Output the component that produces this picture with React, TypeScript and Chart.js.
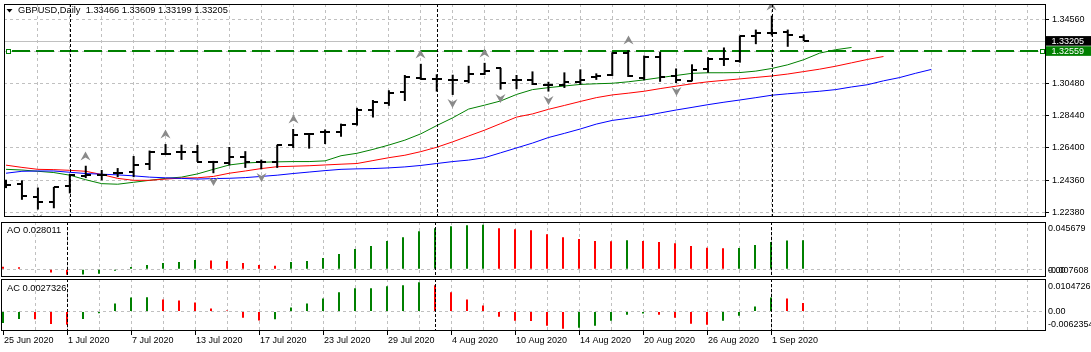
import React, { useEffect, useRef } from 'react';
import { Chart, registerables } from 'chart.js';

Chart.register(...registerables);

// ---------------- data ----------------
const symbol = 'GBPUSD';
const timeframe = 'Daily';

const dates = [
  '25 Jun 2020', '26 Jun 2020', '29 Jun 2020', '30 Jun 2020',
  '1 Jul 2020', '2 Jul 2020', '3 Jul 2020', '6 Jul 2020', '7 Jul 2020', '8 Jul 2020', '9 Jul 2020', '10 Jul 2020',
  '13 Jul 2020', '14 Jul 2020', '15 Jul 2020', '16 Jul 2020', '17 Jul 2020', '20 Jul 2020', '21 Jul 2020',
  '22 Jul 2020', '23 Jul 2020', '24 Jul 2020', '27 Jul 2020', '28 Jul 2020', '29 Jul 2020', '30 Jul 2020', '31 Jul 2020',
  '3 Aug 2020', '4 Aug 2020', '5 Aug 2020', '6 Aug 2020', '7 Aug 2020', '10 Aug 2020', '11 Aug 2020', '12 Aug 2020',
  '13 Aug 2020', '14 Aug 2020', '17 Aug 2020', '18 Aug 2020', '19 Aug 2020', '20 Aug 2020', '21 Aug 2020',
  '24 Aug 2020', '25 Aug 2020', '26 Aug 2020', '27 Aug 2020', '28 Aug 2020', '31 Aug 2020',
  '1 Sep 2020', '2 Sep 2020', '3 Sep 2020',
];

const openPrices = [
  1.24097, 1.24097, 1.23269, 1.22985, 1.23974, 1.24629, 1.24653, 1.24796, 1.24876, 1.25370,
  1.25988, 1.26155, 1.26137, 1.25519, 1.25475, 1.25828, 1.25506, 1.25537, 1.26569, 1.27298,
  1.27391, 1.27422, 1.27904, 1.28794, 1.29288, 1.29944, 1.30833, 1.30772, 1.30728, 1.30667,
  1.31130, 1.31451, 1.30728, 1.30728, 1.30419, 1.30376, 1.30574, 1.30914, 1.31037, 1.32428,
  1.30821, 1.32181, 1.30945, 1.30667, 1.31439, 1.32026, 1.31921, 1.33509, 1.33713, 1.33757,
  1.33466,
];
const highPrices = [
  1.24382, 1.24344, 1.23887, 1.23930, 1.24752, 1.25271, 1.25000, 1.25123, 1.25889, 1.26236,
  1.26650, 1.26606, 1.26588, 1.25580, 1.26464, 1.26198, 1.25661, 1.26606, 1.27607, 1.27329,
  1.27577, 1.27947, 1.28955, 1.29449, 1.30067, 1.31037, 1.31748, 1.31081, 1.31056, 1.31624,
  1.31810, 1.31489, 1.31037, 1.31266, 1.30605, 1.31204, 1.31396, 1.31142, 1.32477, 1.32613,
  1.32273, 1.32508, 1.31451, 1.31717, 1.32168, 1.32786, 1.33540, 1.33923, 1.34807, 1.33923,
  1.33609,
];
const lowPrices = [
  1.23850, 1.23108, 1.22490, 1.22571, 1.23516, 1.24487, 1.24344, 1.24548, 1.24548, 1.25000,
  1.25951, 1.25642, 1.25519, 1.24796, 1.25290, 1.25135, 1.25043, 1.25135, 1.26402, 1.26359,
  1.26650, 1.27113, 1.27824, 1.28337, 1.29078, 1.29387, 1.30728, 1.29987, 1.29770, 1.30524,
  1.31037, 1.30110, 1.30141, 1.30401, 1.29987, 1.30215, 1.30419, 1.30728, 1.30976, 1.30914,
  1.30697, 1.30605, 1.30524, 1.30636, 1.31180, 1.31612, 1.31822, 1.32996, 1.33553, 1.32830,
  1.33199,
];
const closePrices = [
  1.24073, 1.23356, 1.22985, 1.23930, 1.24715, 1.24653, 1.24691, 1.24796, 1.25290, 1.26137,
  1.26032, 1.26155, 1.25519, 1.25519, 1.25828, 1.25506, 1.25537, 1.26569, 1.27249, 1.27311,
  1.27391, 1.27886, 1.28782, 1.29326, 1.29906, 1.30895, 1.30809, 1.30759, 1.30728, 1.31087,
  1.31315, 1.30524, 1.30728, 1.30494, 1.30419, 1.30605, 1.30728, 1.30945, 1.32428, 1.30945,
  1.32193, 1.30883, 1.30697, 1.31377, 1.32069, 1.32026, 1.33509, 1.33713, 1.33713, 1.33553,
  1.33205,
];

// Alligator lines (lips shifted 3 bars, teeth 5, jaw 8 into the future)
const lips = [
  1.25043, 1.25000, 1.24919, 1.24839, 1.24672, 1.24382, 1.24134, 1.24097, 1.24221, 1.24345,
  1.24468, 1.24548, 1.24752, 1.25043, 1.25321, 1.25445, 1.25494, 1.25519, 1.25537, 1.25537,
  1.25581, 1.25908, 1.26063, 1.26310, 1.26588, 1.26897, 1.27299, 1.27824, 1.28318, 1.28874,
  1.29122, 1.29387, 1.29801, 1.30110, 1.30234, 1.30339, 1.30438, 1.30481, 1.30512, 1.30605,
  1.30728, 1.30871, 1.31007, 1.31143, 1.31180, 1.31180, 1.31192, 1.31285, 1.31452, 1.31686,
  1.32008, 1.32428, 1.32644, 1.32786,
];
const teeth = [
  1.25309, 1.25166, 1.25043, 1.25024, 1.24981, 1.24919, 1.24715, 1.24468, 1.24345, 1.24345,
  1.24425, 1.24487, 1.24505, 1.24592, 1.24796, 1.24938, 1.25092, 1.25210, 1.25241, 1.25272,
  1.25321, 1.25370, 1.25414, 1.25599, 1.25784, 1.25939, 1.26168, 1.26446, 1.26792, 1.27163,
  1.27533, 1.27947, 1.28362, 1.28565, 1.28856, 1.29103, 1.29356, 1.29598, 1.29771, 1.29882,
  1.30005, 1.30172, 1.30327, 1.30481, 1.30605, 1.30698, 1.30790, 1.30883, 1.30976, 1.31099,
  1.31254, 1.31408, 1.31594, 1.31810, 1.32026, 1.32212,
];
const jaw = [
  1.24796, 1.24919, 1.24938, 1.24938, 1.24857, 1.24777, 1.24734, 1.24691, 1.24629, 1.24548,
  1.24505, 1.24468, 1.24425, 1.24456, 1.24474, 1.24518, 1.24592, 1.24672, 1.24777, 1.24870,
  1.24963, 1.25043, 1.25074, 1.25092, 1.25136, 1.25197, 1.25290, 1.25414, 1.25537, 1.25630,
  1.25784, 1.26093, 1.26402, 1.26711, 1.27064, 1.27329, 1.27608, 1.27917, 1.28151, 1.28287,
  1.28442, 1.28627, 1.28813, 1.28980, 1.29153, 1.29307, 1.29449, 1.29598, 1.29752, 1.29845,
  1.29925, 1.30005, 1.30110, 1.30277, 1.30419, 1.30667, 1.30871, 1.31143, 1.31390,
];

const fractalUp = [5, 10, 18, 26, 30, 39, 48];
const fractalDown = [2, 13, 16, 28, 31, 34, 42];

const aoValues = [
  0.0024, 0.0019, 0.0005, -0.0032, -0.0055, -0.0051, -0.0045, -0.0016, 0.0022, 0.0041,
  0.0060, 0.0070, 0.0089, 0.0084, 0.0080, 0.0060, 0.0041, 0.0032, 0.0070, 0.0080,
  0.0108, 0.0147, 0.0195, 0.0224, 0.0272, 0.0310, 0.0368, 0.0396, 0.0416, 0.0425,
  0.0429, 0.0396, 0.0387, 0.0377, 0.0339, 0.0310, 0.0291, 0.0272, 0.0270, 0.0281,
  0.0272, 0.0262, 0.0252, 0.0224, 0.0208, 0.0202, 0.0205, 0.0233, 0.0262, 0.0278,
  0.028011,
];
const aoFirstRising = false;
const acValues = [
  -0.00367, -0.00237, -0.00244, -0.00400, -0.00423, -0.00237, -0.00055, 0.00260, 0.00455, 0.00462,
  0.00390, 0.00358, 0.00293, 0.00098, 0.00033, -0.00195, -0.00283, -0.00250, 0.00130, 0.00260,
  0.00423, 0.00618, 0.00748, 0.00754, 0.00813, 0.00845, 0.00943, 0.00845, 0.00618, 0.00390,
  0.00195, -0.00163, -0.00293, -0.00299, -0.00455, -0.00553, -0.00520, -0.00455, -0.00293, -0.00098,
  -0.00065, -0.00098, -0.00195, -0.00390, -0.00423, -0.00293, -0.00130, 0.00163, 0.00455, 0.00423,
  0.0027326,
];
const acFirstRising = true;

const horizontalLevel = 1.32559;

const priceMin = 1.220146;
const priceMax = 1.355488;
const priceTickValues = [1.3456, 1.3252, 1.3048, 1.2844, 1.264, 1.2436, 1.2232];
const priceTickLabels = ['1.34560', '1.32520', '1.30480', '1.28440', '1.26400', '1.24360', '1.22380'];

const aoScaleMax = 0.045679;
const aoScaleMin = -0.007608;
const aoAxisLabels = ['0.045679', '0.00', '-0.007608'];
const acScaleMax = 0.0104726;
const acScaleMin = -0.0062354;
const acAxisLabels = ['0.0104726', '0.00', '-0.0062354'];

// ---------------- styling ----------------
const FONT = "'Liberation Sans', Arial, sans-serif";
const W = 1091;
const AXIS_W = 45;
const X_MIN = -0.125;
const X_MAX = 65.1875;
const GRID_COLOR = '#c0c0c0';
const GRID_DASH = [3, 3];
const GREEN = '#008000';
const RED = '#ff0000';

const monthStarts = dates
  .map((d, i) => (i > 0 && d.split(' ')[1] !== dates[i - 1].split(' ')[1] ? i : -1))
  .filter((i) => i >= 0);

const xy = (arr: number[]) => arr.map((v, i) => ({ x: i, y: v }));
const risingColors = (vals: number[], first: boolean) =>
  vals.map((v, i) => ((i === 0 ? first : v > vals[i - 1]) ? GREEN : RED));

function pointImage(kind: string): HTMLCanvasElement {
  const c = document.createElement('canvas');
  if (kind === 'open' || kind === 'close') {
    c.width = 10;
    c.height = 2;
    const g = c.getContext('2d') as CanvasRenderingContext2D;
    g.fillStyle = '#000';
    g.fillRect(kind === 'open' ? 0 : 5, 0, 5, 2);
  } else {
    c.width = 11;
    c.height = 40;
    const g = c.getContext('2d') as CanvasRenderingContext2D;
    const up = kind === 'up';
    const cy = up ? 10 : 28.5;
    const s = up ? 1 : -1;
    g.fillStyle = '#8a8a8a';
    g.beginPath();
    g.moveTo(5.5, cy - 4.5 * s);
    g.lineTo(10.5, cy + 4.5 * s);
    g.lineTo(5.5, cy + 1.5 * s);
    g.lineTo(0.5, cy + 4.5 * s);
    g.closePath();
    g.fill();
  }
  return c;
}

function xAxis(withLabels: boolean): any {
  return {
    type: 'linear',
    min: X_MIN,
    max: X_MAX,
    offset: false,
    afterBuildTicks: (s: any) => {
      const t = [];
      for (let v = 0; v <= X_MAX; v += 2) t.push({ value: v });
      s.ticks = t;
    },
    afterFit: (s: any) => {
      s.height = withLabels ? 21 : 0;
      s.paddingLeft = 0;
      s.paddingRight = 0;
    },
    grid: {
      offset: false,
      lineWidth: 1,
      color: (c: any) => (c.tick && c.tick.value === 0 ? 'rgba(0,0,0,0)' : GRID_COLOR),
      drawTicks: withLabels,
      tickLength: 4,
      tickWidth: 1,
      tickColor: (c: any) =>
        c.tick && c.tick.value % 4 === 0 && c.tick.value < dates.length ? '#000' : 'rgba(0,0,0,0)',
    },
    border: { display: false, dash: GRID_DASH },
    ticks: {
      display: withLabels,
      autoSkip: false,
      maxRotation: 0,
      minRotation: 0,
      align: 'start',
      labelOffset: 1,
      padding: 0,
      color: '#000',
      font: { family: FONT, size: 9 },
      callback: (v: number) => (v % 4 === 0 && dates[v] ? dates[v] : ''),
    },
  };
}

function indicatorY(min: number, max: number): any {
  return {
    position: 'right',
    min,
    max,
    afterBuildTicks: (s: any) => {
      s.ticks = [{ value: 0 }];
    },
    afterFit: (s: any) => {
      s.width = AXIS_W;
      s.paddingTop = 0;
      s.paddingBottom = 0;
    },
    grid: { color: GRID_COLOR, lineWidth: 1, drawTicks: false },
    border: { display: false, dash: GRID_DASH },
    ticks: { display: false },
  };
}

const panelPlugin = {
  id: 'panelFrame',
  beforeDatasetsDraw(chart: any) {
    chart.ctx.imageSmoothingEnabled = false;
  },
  afterDatasetsDraw(chart: any) {
    const { ctx, chartArea: a, scales } = chart;
    ctx.save();
    ctx.strokeStyle = '#000';
    ctx.lineWidth = 1;
    ctx.setLineDash([3, 2]);
    monthStarts.forEach((i) => {
      const px = Math.round(scales.x.getPixelForValue(i)) + 0.5;
      ctx.beginPath();
      ctx.moveTo(px, a.top);
      ctx.lineTo(px, a.bottom);
      ctx.stroke();
    });
    ctx.restore();
  },
  afterDraw(chart: any) {
    const { ctx, chartArea: a } = chart;
    ctx.save();
    ctx.setLineDash([]);
    ctx.strokeStyle = '#000';
    ctx.lineWidth = 1;
    ctx.strokeRect(a.left + 0.5, a.top + 0.5, a.right - a.left - 1, a.bottom - a.top - 1);
    ctx.restore();
  },
};

const mainOverlay = {
  id: 'mainOverlay',
  beforeDatasetsDraw(chart: any) {
    const { ctx, chartArea: a, scales } = chart;
    const last = closePrices.length - 1;
    ctx.save();
    // bid line
    const by = Math.round(scales.y.getPixelForValue(closePrices[last])) + 0.5;
    ctx.strokeStyle = '#c0c0c0';
    ctx.lineWidth = 1;
    ctx.beginPath();
    ctx.moveTo(a.left, by);
    ctx.lineTo(a.right, by);
    ctx.stroke();
    // horizontal level
    const ly = Math.round(scales.y.getPixelForValue(horizontalLevel));
    ctx.strokeStyle = GREEN;
    ctx.lineWidth = 2;
    ctx.setLineDash([18, 6]);
    ctx.beginPath();
    ctx.moveTo(a.left + 8, ly);
    ctx.lineTo(a.right - 6, ly);
    ctx.stroke();
    ctx.setLineDash([]);
    ctx.lineWidth = 1;
    ctx.fillStyle = '#fff';
    [a.left + 2.5, a.right - 5.5].forEach((sx) => {
      ctx.fillRect(sx, ly - 1.5, 4, 4);
      ctx.strokeRect(sx, ly - 1.5, 4, 4);
    });
    ctx.restore();
  },
  afterDraw(chart: any) {
    const { ctx, chartArea: a, scales } = chart;
    const last = closePrices.length - 1;
    ctx.save();
    ctx.font = `9px ${FONT}`;
    ctx.textBaseline = 'middle';
    ctx.textAlign = 'left';
    const boxes = [
      { v: closePrices[last], bg: '#000' },
      { v: horizontalLevel, bg: GREEN },
    ];
    boxes.forEach((b) => {
      const cy = scales.y.getPixelForValue(b.v);
      ctx.fillStyle = b.bg;
      ctx.fillRect(a.right, cy - 4.8, W - a.right, 9.6);
      ctx.fillStyle = '#fff';
      ctx.fillText(b.v.toFixed(5), a.right + 5.5, cy + 0.3);
    });
    // header
    ctx.fillStyle = '#000';
    ctx.beginPath();
    ctx.moveTo(6.5, 9);
    ctx.lineTo(12.5, 9);
    ctx.lineTo(9.5, 12.5);
    ctx.closePath();
    ctx.fill();
    ctx.font = `9.3px ${FONT}`;
    const txt = `${symbol},${timeframe}  ${openPrices[last].toFixed(5)} ${highPrices[last].toFixed(5)} ${lowPrices[last].toFixed(5)} ${closePrices[last].toFixed(5)}`;
    ctx.fillText(txt, 18, 10.8);
    ctx.restore();
  },
};

function indicatorText(
  name: string,
  values: number[],
  decimals: number,
  labels: string[],
  nameY: number,
  offs: number[],
) {
  return {
    id: 'indicatorText' + name,
    afterDraw(chart: any) {
      const { ctx, chartArea: a, scales } = chart;
      ctx.save();
      ctx.fillStyle = '#000';
      ctx.textBaseline = 'middle';
      ctx.textAlign = 'left';
      ctx.font = `9.3px ${FONT}`;
      ctx.fillText(`${name} ${values[values.length - 1].toFixed(decimals)}`, 7, nameY);
      ctx.font = `9px ${FONT}`;
      const z = scales.y.getPixelForValue(0);
      const ys = [a.top + offs[0], z + offs[1], a.bottom - offs[2]];
      labels.forEach((t, k) => ctx.fillText(t, a.right + 2, ys[k]));
      ctx.restore();
    },
  };
}

const baseOptions = (padding: any) => ({
  responsive: false,
  animation: false,
  devicePixelRatio: 1,
  events: [],
  layout: { padding },
  plugins: { legend: { display: false }, tooltip: { enabled: false } },
});

function mainConfig(): any {
  const imgOpen = pointImage('open');
  const imgClose = pointImage('close');
  const imgUp = pointImage('up');
  const imgDown = pointImage('down');
  const lineDs = (data: number[], color: string) => ({
    type: 'line',
    data: xy(data),
    borderColor: color,
    borderWidth: 1,
    pointRadius: 0,
    tension: 0,
    order: 3,
    clip: 0,
  });
  const pointsDs = (data: any[], img: HTMLCanvasElement, order: number) => ({
    type: 'line',
    data,
    showLine: false,
    pointStyle: img,
    pointRadius: 3,
    pointHoverRadius: 3,
    order,
    clip: 0,
  });
  return {
    type: 'bar',
    data: {
      datasets: [
        lineDs(jaw, '#0000ff'),
        lineDs(teeth, RED),
        lineDs(lips, GREEN),
        {
          type: 'bar',
          data: highPrices.map((h, i) => ({ x: i, y: [lowPrices[i], h] })),
          backgroundColor: '#000',
          borderWidth: 0,
          barThickness: 2,
          inflateAmount: 0,
          order: 0,
          clip: 0,
        },
        pointsDs(xy(openPrices), imgOpen, 0),
        pointsDs(xy(closePrices), imgClose, 0),
        pointsDs(fractalUp.map((i) => ({ x: i, y: highPrices[i] })), imgUp, 1),
        pointsDs(fractalDown.map((i) => ({ x: i, y: lowPrices[i] })), imgDown, 1),
      ],
    },
    options: {
      ...baseOptions({ left: 1, right: 0, top: 2, bottom: 0 }),
      scales: {
        x: xAxis(false),
        y: {
          position: 'right',
          min: priceMin,
          max: priceMax,
          afterBuildTicks: (s: any) => {
            s.ticks = priceTickValues.map((value) => ({ value }));
          },
          afterFit: (s: any) => {
            s.width = AXIS_W;
            s.paddingTop = 0;
            s.paddingBottom = 0;
          },
          grid: { color: GRID_COLOR, lineWidth: 1, drawTicks: true, tickLength: 3, tickColor: '#000' },
          border: { display: false, dash: GRID_DASH },
          ticks: {
            autoSkip: false,
            padding: 3,
            color: '#000',
            font: { family: FONT, size: 9 },
            callback: (_v: number, i: number) => priceTickLabels[i],
          },
        },
      },
    },
    plugins: [panelPlugin, mainOverlay],
  };
}

function indicatorConfig(
  values: number[],
  firstRising: boolean,
  min: number,
  max: number,
  withLabels: boolean,
  padding: any,
  textPlugin: any,
): any {
  return {
    type: 'bar',
    data: {
      datasets: [
        {
          data: xy(values),
          backgroundColor: risingColors(values, firstRising),
          borderWidth: 0,
          barThickness: 2,
          inflateAmount: 0,
          clip: 0,
        },
      ],
    },
    options: {
      ...baseOptions(padding),
      scales: { x: xAxis(withLabels), y: indicatorY(min, max) },
    },
    plugins: [panelPlugin, textPlugin],
  };
}

export default function App() {
  const mainRef = useRef<HTMLCanvasElement>(null);
  const aoRef = useRef<HTMLCanvasElement>(null);
  const acRef = useRef<HTMLCanvasElement>(null);

  useEffect(() => {
    document.body.style.margin = '0';
    const charts: Chart[] = [];
    if (mainRef.current) charts.push(new Chart(mainRef.current, mainConfig()));
    if (aoRef.current)
      charts.push(
        new Chart(
          aoRef.current,
          indicatorConfig(
            aoValues, aoFirstRising, aoScaleMin, aoScaleMax, false,
            { left: 1, right: 0, top: 1, bottom: 1 },
            indicatorText('AO', aoValues, 6, aoAxisLabels, 9.5, [6.3, 1.3, 6]),
          ),
        ),
      );
    if (acRef.current)
      charts.push(
        new Chart(
          acRef.current,
          indicatorConfig(
            acValues, acFirstRising, acScaleMin, acScaleMax, true,
            { left: 1, right: 0, top: 1, bottom: 0 },
            indicatorText('AC', acValues, 7, acAxisLabels, 10.8, [7.7, 0.4, 6]),
          ),
        ),
      );
    return () => charts.forEach((c) => c.destroy());
  }, []);

  return (
    <div style={{ position: 'absolute', left: 0, top: 0, width: W, height: 352, background: '#fff', overflow: 'hidden' }}>
      <canvas ref={mainRef} width={W} height={221} style={{ position: 'absolute', left: 0, top: 0 }} />
      <canvas ref={aoRef} width={W} height={57} style={{ position: 'absolute', left: 0, top: 221 }} />
      <canvas ref={acRef} width={W} height={74} style={{ position: 'absolute', left: 0, top: 278 }} />
    </div>
  );
}
